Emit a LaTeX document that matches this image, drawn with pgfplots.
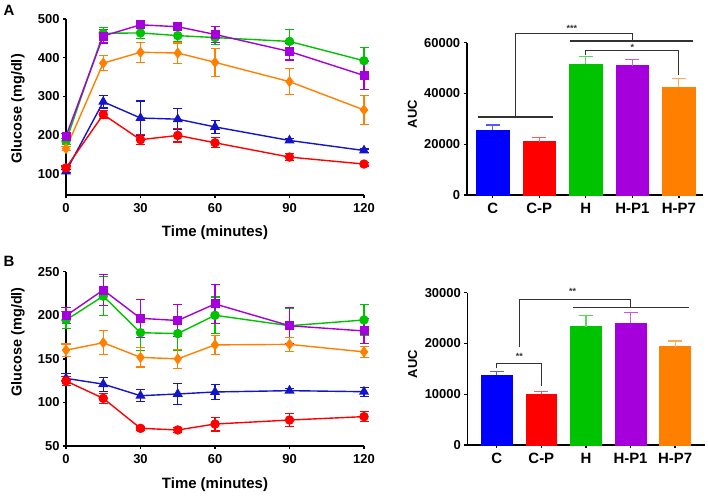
\documentclass[border=0pt]{standalone}
\usepackage{pgfplots}
\pgfplotsset{compat=1.18}
\usepackage{pgfplotstable}
\usepackage{fontspec}
\setmainfont{Liberation Sans}

\definecolor{cblue}{RGB}{0,0,255}
\definecolor{lblue}{RGB}{20,20,200}
\definecolor{cred}{RGB}{255,0,0}
\definecolor{cgreen}{RGB}{0,195,0}
\definecolor{cpurple}{RGB}{165,0,220}
\definecolor{corange}{RGB}{255,128,0}
\definecolor{brk}{RGB}{50,50,50}

\newcommand\tf{\bfseries\fontsize{13}{15}\selectfont}
\newcommand\lf{\bfseries\fontsize{15}{17}\selectfont}

% glucose, t = minutes; columns: mean and SEM per group
\pgfplotstableread{
t   c     ce  cp    cpe  h    he  p1   p1e  p7   p7e
0   106   4   115   5    184  8   197  8    165  6
15  286   16  253   11   463  16  456  18   386  19
30  244   44  188   13   464  15  485  7    414  26
45  241   27  199   17   457  15  480  10   412  26
60  221   17  180   13   452  18  460  20   388  36
90  186   5   143   9    442  30  416  22   338  34
120 160   4   125   5    392  35  354  36   265  38
}\tblA

\pgfplotstableread{
t   c      ce  cp    cpe  h      he  p1     p1e  p7     p7e
0   127.6  6   124.6 5    194.5  10  199.5  9    160    7
15  121    8   104.7 6    222    22  229    18   168.5  14
30  107.7  7   70.3  2    180    20  196.5  22   151.7  11
45  109.7  12  68.4  3    179    19  194    18   150    11
60  112    9   75.2  8    200    21  213    22   166    11
90  113.5  2   79.8  7    188    20  188    21   166.6  8
120 112.3  5   83.7  6    194.6  18  182    14   158    6
}\tblB

\pgfplotsset{
  gp/.style={
    scale only axis, anchor=south west, clip=false,
    axis x line*=bottom, axis y line*=left,
    axis line style={line width=1.6bp, black},
    tick style={line width=1.4bp, black},
    major tick length=3bp, tick align=outside,
    tick label style={font=\tf},
    xticklabel style={yshift=-1.5bp},
    /pgf/number format/assume math mode=true,
    /pgf/number format/1000 sep={},
    scaled y ticks=false,
  },
  ln/.style={
    gp, xmin=0, xmax=120, xtick={0,30,60,90,120},
    xlabel={Time (minutes)}, ylabel={Glucose (mg/dl)},
    xlabel style={font=\bfseries\fontsize{15}{17}\selectfont, at={(rel axis cs:0.5,-0.216)}, anchor=center},
    ylabel style={font=\bfseries\fontsize{14.5}{16}\selectfont, anchor=center},
  },
  br/.style={
    gp, ymin=0, xtick={0,1,2,3,4}, xticklabels={C,C-P,H,H-P1,H-P7},
    xticklabel style={font=\lf},
    ylabel={AUC},
    ylabel style={font=\bfseries\fontsize{13}{15}\selectfont, at={(rel axis cs:-0.230,0.532)}, anchor=center},
  },
  ser/.style={color=#1, line width=1.4bp, mark options={solid, fill=#1},
    error bars/.cd, y dir=both, y explicit,
    error bar style={line width=1.1bp, color=#1},
    error mark options={rotate=90, mark size=4.5bp, line width=1.1bp, color=#1}},
  bb/.style={ybar, bar shift=0pt, bar width=0.69, fill=#1, draw=#1, line width=0.6bp,
    error bars/.cd, y dir=plus, y explicit,
    error bar style={line width=1.2bp, color=#1!65},
    error mark options={rotate=90, mark size=7bp, line width=1.2bp, color=#1!65}},
}

\begin{document}
\begin{tikzpicture}
\path[use as bounding box] (0,0) rectangle (708bp,499bp);

% ---- A, glucose curve
\begin{axis}[ln, at={(66bp,304bp)}, width=298bp, height=176bp,
  ymin=45, ymax=500, ytick={100,200,300,400,500},
  ylabel style={at={(rel axis cs:-0.161,0.49)}}]
\addplot[mark=triangle*, mark size=4.5bp, ser=lblue] table[x=t, y=c, y error=ce] {\tblA};
\addplot[mark=*, mark size=4bp, ser=cred] table[x=t, y=cp, y error=cpe] {\tblA};
\addplot[mark=*, mark size=4bp, ser=cgreen] table[x=t, y=h, y error=he] {\tblA};
\addplot[mark=square*, mark size=3.8bp, ser=cpurple] table[x=t, y=p1, y error=p1e] {\tblA};
\addplot[mark=diamond*, mark size=4.5bp, ser=corange] table[x=t, y=p7, y error=p7e] {\tblA};
\end{axis}

% ---- A, AUC
\begin{axis}[br, at={(466.7bp,304bp)}, width=236.3bp, height=152.3bp,
  xmin=-0.56, xmax=4.52, ymax=60000, ytick={0,20000,40000,60000}]
\addplot[bb=cblue] coordinates {(0,25600) +- (0,1970)};
\addplot[bb=cred] coordinates {(1,21000) +- (0,1580)};
\addplot[bb=cgreen] coordinates {(2,51600) +- (0,2890)};
\addplot[bb=cpurple] coordinates {(3,50940) +- (0,2500)};
\addplot[bb=corange] coordinates {(4,42400) +- (0,3550)};
\draw[brk, line width=1.1bp] (axis cs:-0.31,30730) -- (axis cs:1.29,30730);
\draw[brk, line width=1.1bp] (axis cs:0.48,30730) -- (axis cs:0.48,63700) -- (axis cs:3.0,63700) -- (axis cs:3.0,60670);
\draw[brk, line width=1.1bp] (axis cs:1.67,60670) -- (axis cs:4.30,60670);
\draw[brk, line width=1.1bp] (axis cs:2,55150) -- (axis cs:2,56850) -- (axis cs:4,56850) -- (axis cs:4,47270);
\node[brk, font=\bfseries\fontsize{9}{9}\selectfont] at (axis cs:1.70,65600) {***};
\node[brk, font=\bfseries\fontsize{9}{9}\selectfont] at (axis cs:3.0,58100) {*};
\end{axis}

% ---- B, glucose curve
\begin{axis}[ln, at={(66bp,53bp)}, width=298bp, height=174.3bp,
  ymin=50, ymax=250, ytick={50,100,150,200,250},
  ylabel style={at={(rel axis cs:-0.161,0.598)}},
  xlabel style={at={(rel axis cs:0.5,-0.224)}}]
\addplot[mark=triangle*, mark size=4.5bp, ser=lblue] table[x=t, y=c, y error=ce] {\tblB};
\addplot[mark=*, mark size=4bp, ser=cred] table[x=t, y=cp, y error=cpe] {\tblB};
\addplot[mark=*, mark size=4bp, ser=cgreen] table[x=t, y=h, y error=he] {\tblB};
\addplot[mark=square*, mark size=3.8bp, ser=cpurple] table[x=t, y=p1, y error=p1e] {\tblB};
\addplot[mark=diamond*, mark size=4.5bp, ser=corange] table[x=t, y=p7, y error=p7e] {\tblB};
\end{axis}

% ---- B, AUC
\begin{axis}[br, at={(467.3bp,54bp)}, width=237.7bp, height=152.3bp,
  xmin=-0.66, xmax=4.67, ymax=30000, ytick={0,10000,20000,30000}]
\addplot[bb=cblue] coordinates {(0,13786) +- (0,650)};
\addplot[bb=cred] coordinates {(1,10044) +- (0,530)};
\addplot[bb=cgreen] coordinates {(2,23300) +- (0,2170)};
\addplot[bb=cpurple] coordinates {(3,23960) +- (0,2100)};
\addplot[bb=corange] coordinates {(4,19365) +- (0,1115)};
\draw[brk, line width=1.1bp] (axis cs:0,15100) -- (axis cs:0,16090) -- (axis cs:1,16090) -- (axis cs:1,11620);
\draw[brk, line width=1.1bp] (axis cs:0.507,19240) -- (axis cs:0.507,28700) -- (axis cs:2.99,28700) -- (axis cs:2.99,27120);
\draw[brk, line width=1.1bp] (axis cs:1.72,27120) -- (axis cs:4.30,27120);
\node[brk, font=\bfseries\fontsize{9}{9}\selectfont] at (axis cs:0.51,17390) {**};
\node[brk, font=\bfseries\fontsize{9}{9}\selectfont] at (axis cs:1.70,30200) {**};
\end{axis}

\node[font=\bfseries\fontsize{15}{15}\selectfont] at (9bp,489bp) {A};
\node[font=\bfseries\fontsize{15}{15}\selectfont] at (9bp,238bp) {B};
\end{tikzpicture}
\end{document}
